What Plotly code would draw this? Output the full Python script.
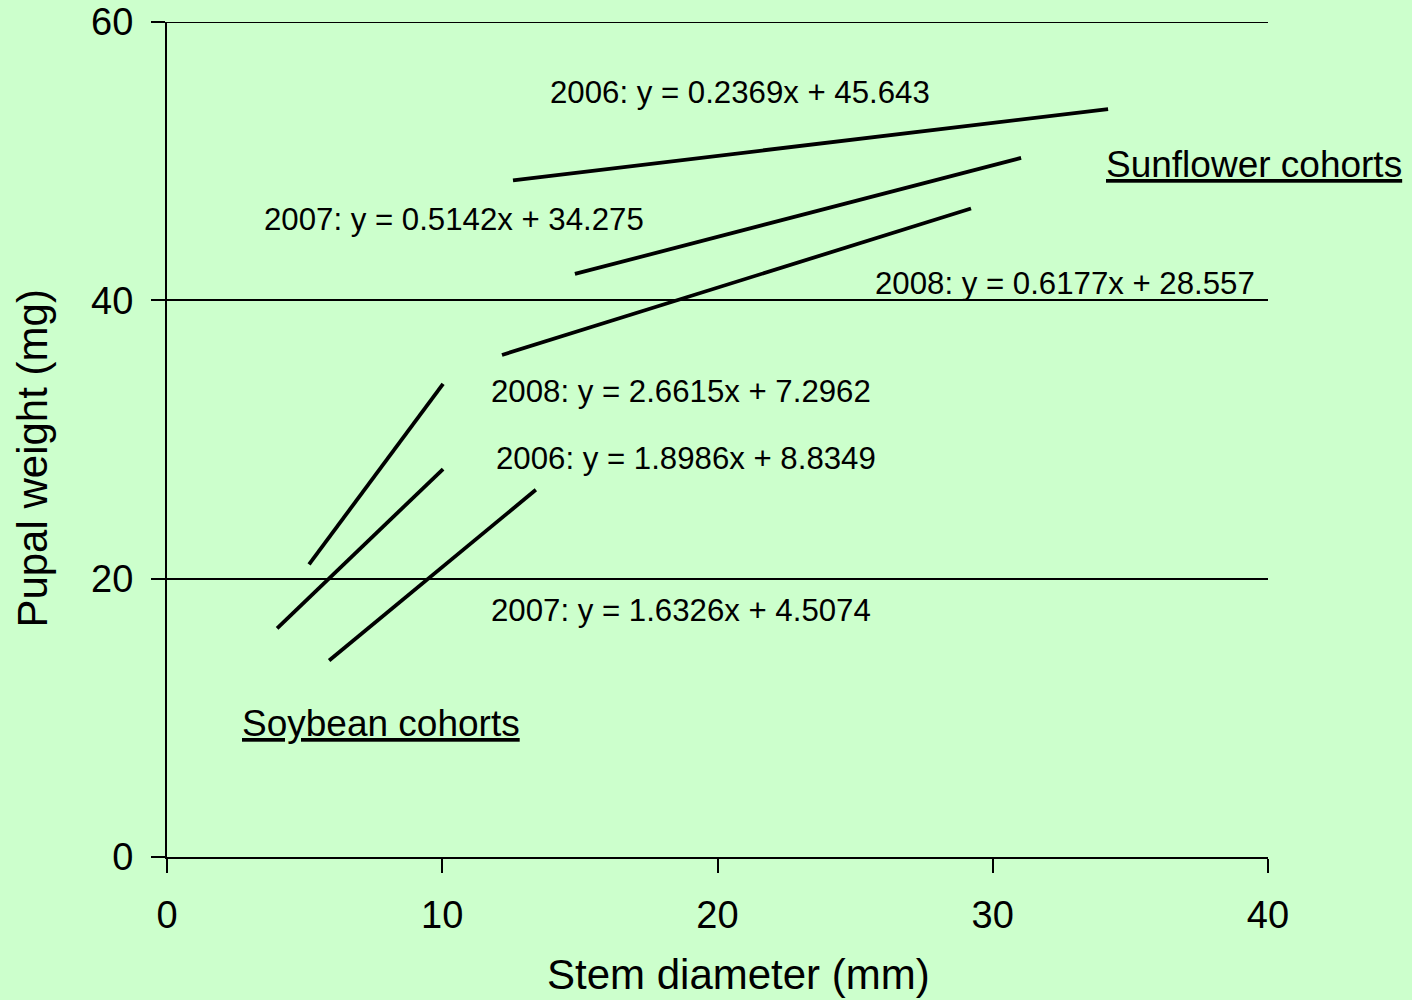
import plotly.graph_objects as go

# Regression fits of pupal weight on stem diameter, per host crop and year
crops = ["Sunflower", "Sunflower", "Sunflower", "Soybean", "Soybean", "Soybean"]
years = ["2006", "2007", "2008", "2008", "2006", "2007"]
slopes = [0.2369, 0.5142, 0.6177, 2.6615, 1.8986, 1.6326]
intercepts = [45.643, 34.275, 28.557, 7.2962, 8.8349, 4.5074]
x_start = [12.57, 14.82, 12.17, 5.16, 4.0, 5.89]
x_end = [34.19, 31.03, 29.21, 10.03, 10.03, 13.4]

# Where each equation label sits (data units)
label_x = [13.84, 3.45, 25.65, 11.70, 11.88, 11.70]
label_y = [54.9, 45.84, 41.24, 33.48, 28.6, 17.68]

group_names = ["Sunflower cohorts", "Soybean cohorts"]
group_x = [34.04, 2.65]
group_y = [49.79, 9.56]

x_ticks = [0, 10, 20, 30, 40]
y_ticks = [0, 20, 40, 60]

FONT = "Liberation Sans, Arial, sans-serif"
BG = "#CCFFCC"

fig = go.Figure()

for i in range(len(slopes)):
    xs = [x_start[i], x_end[i]]
    ys = [slopes[i] * x + intercepts[i] for x in xs]
    fig.add_trace(go.Scatter(
        x=xs, y=ys, mode="lines",
        line=dict(color="black", width=3.8),
        name=f"{crops[i]} {years[i]}",
        showlegend=False, hoverinfo="skip",
    ))
    fig.add_annotation(
        x=label_x[i], y=label_y[i], xref="x", yref="y",
        text=f"{years[i]}: y = {slopes[i]:.4f}x + {intercepts[i]:g}",
        showarrow=False, xanchor="left", yanchor="middle",
        font=dict(family=FONT, size=31.2, color="black"),
    )

for name, gx, gy in zip(group_names, group_x, group_y):
    fig.add_annotation(
        x=gx, y=gy, xref="x", yref="y",
        text=f"<u>{name}</u>",
        showarrow=False, xanchor="left", yanchor="middle",
        font=dict(family=FONT, size=37, color="black"),
    )

# Top gridline sits on the plot edge, so draw it explicitly
fig.add_shape(
    type="line", xref="x", yref="y",
    x0=x_ticks[0], x1=x_ticks[-1], y0=y_ticks[-1], y1=y_ticks[-1],
    line=dict(color="black", width=2), layer="below",
)

# Axis titles
fig.add_annotation(
    x=(738 - 167) / 1101, y=-0.1413, xref="paper", yref="paper",
    text="Stem diameter (mm)", showarrow=False,
    xanchor="center", yanchor="middle",
    font=dict(family=FONT, size=42, color="black"),
)
fig.add_annotation(
    x=-0.123, y=0.4766, xref="paper", yref="paper",
    text="Pupal weight (mg)", showarrow=False, textangle=-90,
    xanchor="center", yanchor="middle",
    font=dict(family=FONT, size=42, color="black"),
)

fig.update_layout(
    width=1412, height=1000,
    margin=dict(l=167, r=144, t=22, b=143, autoexpand=False),
    paper_bgcolor=BG, plot_bgcolor=BG,
    font=dict(family=FONT, color="black"),
    xaxis=dict(
        range=[0, 40], tickvals=x_ticks, ticktext=[str(v) for v in x_ticks],
        showgrid=False, zeroline=False, automargin=False,
        showline=True, linecolor="black", linewidth=2,
        ticks="outside", ticklen=14, tickwidth=2, tickcolor="black",
        tickfont=dict(family=FONT, size=38, color="black"),
        ticklabelstandoff=9,
    ),
    yaxis=dict(
        range=[0, 60], tickvals=y_ticks, ticktext=[str(v) for v in y_ticks],
        showgrid=True, gridcolor="black", gridwidth=2, zeroline=False,
        automargin=False,
        showline=True, linecolor="black", linewidth=2,
        ticks="outside", ticklen=14, tickwidth=2, tickcolor="black",
        tickfont=dict(family=FONT, size=38, color="black"),
        ticklabelstandoff=10,
    ),
)

fig.write_html("out.html")
